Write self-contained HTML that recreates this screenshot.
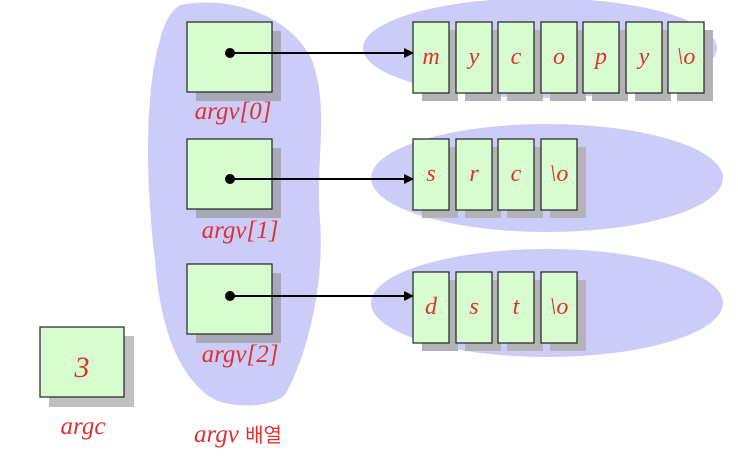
<!DOCTYPE html>
<html><head><meta charset="utf-8"><style>body{margin:0;background:#fff}svg{display:block}</style></head><body>
<svg width="738" height="468" xmlns="http://www.w3.org/2000/svg" font-family="'Liberation Serif','Noto Serif CJK SC',serif">
<path d="M180,5 C230,-5 290,15 312,60 C330,110 315,160 320,220 C325,290 305,360 285,395 C270,408 235,408 215,400 C180,380 160,330 155,260 C145,180 145,90 160,40 C165,20 172,10 180,5 Z" fill="#ccccf8"/>
<ellipse cx="540" cy="48" rx="177" ry="50" fill="#ccccf8"/>
<ellipse cx="547" cy="178" rx="176" ry="54" fill="#ccccf8"/>
<ellipse cx="547" cy="303" rx="176" ry="54" fill="#ccccf8"/>
<g fill="#a8a8b8">
<rect x="196" y="31" width="85" height="70"/><rect x="196" y="148" width="85" height="70"/><rect x="196" y="273" width="85" height="70"/>
</g>
<rect x="49" y="336" width="85" height="71" fill="#c0c0c0"/>
<g fill="#d6fcd0" stroke="#222" stroke-width="1.2">
<rect x="187" y="22" width="85" height="70"/><rect x="187" y="139" width="85" height="70"/><rect x="187" y="264" width="85" height="70"/>
<rect x="40" y="327" width="84" height="70"/>
</g>
<g fill="#b4b4b8">
<rect x="422" y="30" width="36" height="71"/><rect x="465" y="30" width="36" height="71"/><rect x="507" y="30" width="36" height="71"/><rect x="550" y="30" width="36" height="71"/><rect x="592" y="30" width="36" height="71"/><rect x="635" y="30" width="36" height="71"/><rect x="677" y="30" width="36" height="71"/>
<rect x="422" y="147" width="36" height="71"/><rect x="465" y="147" width="36" height="71"/><rect x="507" y="147" width="36" height="71"/><rect x="550" y="147" width="36" height="71"/>
<rect x="422" y="280" width="36" height="71"/><rect x="465" y="280" width="36" height="71"/><rect x="507" y="280" width="36" height="71"/><rect x="550" y="280" width="36" height="71"/>
</g>
<g fill="#d6fcd0" stroke="#222" stroke-width="1.2">
<rect x="413" y="22" width="36" height="71"/><rect x="456" y="22" width="36" height="71"/><rect x="498" y="22" width="36" height="71"/><rect x="541" y="22" width="36" height="71"/><rect x="583" y="22" width="36" height="71"/><rect x="626" y="22" width="36" height="71"/><rect x="668" y="22" width="36" height="71"/>
<rect x="413" y="139" width="36" height="71"/><rect x="456" y="139" width="36" height="71"/><rect x="498" y="139" width="36" height="71"/><rect x="541" y="139" width="36" height="71"/>
<rect x="413" y="272" width="36" height="71"/><rect x="456" y="272" width="36" height="71"/><rect x="498" y="272" width="36" height="71"/><rect x="541" y="272" width="36" height="71"/>
</g>
<g font-style="italic" font-size="24" fill="#e03030" text-anchor="middle">
<text x="431" y="64">m</text><text x="474" y="64">y</text><text x="516" y="64">c</text><text x="559" y="64">o</text><text x="601" y="64">p</text><text x="644" y="64">y</text><text x="686" y="64">\o</text>
<text x="431" y="181">s</text><text x="474" y="181">r</text><text x="516" y="181">c</text><text x="559" y="181">\o</text>
<text x="431" y="314">d</text><text x="474" y="314">s</text><text x="516" y="314">t</text><text x="559" y="314">\o</text>
</g>
<g fill="#000" stroke="#000" stroke-width="2">
<circle cx="230" cy="53" r="4"/><line x1="230" y1="53" x2="406" y2="53"/><path d="M404,48 L414,53 L404,58 Z" stroke-width="0"/>
<circle cx="230" cy="179" r="4"/><line x1="230" y1="179" x2="406" y2="179"/><path d="M404,174 L414,179 L404,184 Z" stroke-width="0"/>
<circle cx="230" cy="296" r="4"/><line x1="230" y1="296" x2="406" y2="296"/><path d="M404,291 L414,296 L404,301 Z" stroke-width="0"/>
</g>
<g font-style="italic" fill="#e03030" font-size="25">
<text x="233" y="119" text-anchor="middle">argv[0]</text>
<text x="240" y="238" text-anchor="middle">argv[1]</text>
<text x="240" y="362" text-anchor="middle">argv[2]</text>
<text x="83" y="434" text-anchor="middle">argc</text>
<text x="82" y="377" text-anchor="middle" font-size="30">3</text>
<text x="194" y="442">argv <tspan font-style="normal" font-family="'Noto Sans CJK KR',sans-serif" font-size="20">배열</tspan></text>
</g>
</svg>
</body></html>
